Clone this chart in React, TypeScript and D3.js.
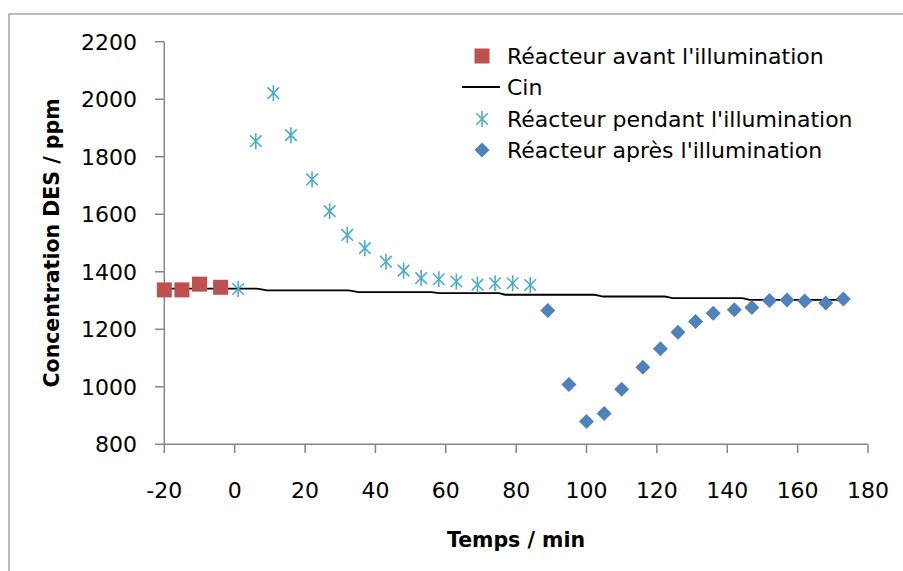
import React from "react";
import * as d3 from "d3";

const avantX = [-20, -15, -10, -4];
const avantY = [1337, 1337, 1357, 1346];

const pendantX = [1, 6, 11, 16, 22, 27, 32, 37, 43, 48, 53, 58, 63, 69, 74, 79, 84];
const pendantY = [1340, 1854, 2021, 1875, 1721, 1611, 1528, 1482, 1435, 1404, 1378, 1374, 1366, 1355, 1360, 1360, 1354];

const apresX = [89, 95, 100, 105, 110, 116, 121, 126, 131, 136, 142, 147, 152, 157, 162, 168, 173];
const apresY = [1265, 1008, 879, 907, 991, 1068, 1132, 1190, 1227, 1256, 1268, 1276, 1300, 1302, 1298, 1291, 1305];

const cinX = [-20, 6, 10, 32, 36, 56, 58, 75, 77, 102, 105, 122, 125, 144, 147, 174];
const cinY = [1341, 1341, 1335, 1335, 1329, 1329, 1326, 1326, 1320, 1320, 1314, 1314, 1308, 1308, 1302, 1302];

const xTicks = [-20, 0, 20, 40, 60, 80, 100, 120, 140, 160, 180];
const yTicks = [800, 1000, 1200, 1400, 1600, 1800, 2000, 2200];

const legendLabels = [
  "Réacteur avant l'illumination",
  "Cin",
  "Réacteur pendant l'illumination",
  "Réacteur après l'illumination",
];

const W = 903;
const H = 571;
const FONT = "'DejaVu Sans', sans-serif";
const AXIS = "#868686";
const RED = "#C0504D";
const CYAN = "#4BACC6";
const BLUE = "#4F81BD";

function Star({ cx, cy, r }: { cx: number; cy: number; r: number }) {
  const d = r * 0.72;
  return (
    <g stroke={CYAN} strokeWidth={1.6} fill="none">
      <line x1={cx} y1={cy - r} x2={cx} y2={cy + r} />
      <line x1={cx - d} y1={cy - d} x2={cx + d} y2={cy + d} />
      <line x1={cx - d} y1={cy + d} x2={cx + d} y2={cy - d} />
    </g>
  );
}

function Diamond({ cx, cy, r }: { cx: number; cy: number; r: number }) {
  return <path d={`M${cx},${cy - r}L${cx + r},${cy}L${cx},${cy + r}L${cx - r},${cy}Z`} fill={BLUE} />;
}

export default function App() {
  const x = d3.scaleLinear().domain([-20, 180]).range([164.3, 868]);
  const y = d3.scaleLinear().domain([800, 2200]).range([444.3, 41.7]);
  const line = d3
    .line<number>()
    .x((_, i) => x(cinX[i]))
    .y((v) => y(v))
    .curve(d3.curveMonotoneX);

  const legendX = 482;
  const legendTextX = 507;
  const legendYs = [56, 87, 119, 150];

  return (
    <svg
      width={W}
      height={H}
      style={{ position: "absolute", left: 0, top: 0, background: "#fff" }}
      fontFamily={FONT}
    >
      <rect x={0} y={0} width={W} height={H} fill="#fff" />
      <rect x={9} y={14} width={W + 20} height={H + 20} fill="none" stroke="#a6a6a6" strokeWidth={1.5} />

      {/* axes */}
      <line x1={x(-20)} y1={y(2200)} x2={x(-20)} y2={y(800)} stroke={AXIS} strokeWidth={1.5} />
      <line x1={x(-20)} y1={y(800)} x2={x(180)} y2={y(800)} stroke={AXIS} strokeWidth={1.5} />
      {yTicks.map((t) => (
        <g key={"y" + t}>
          <line x1={155} x2={x(-20)} y1={y(t)} y2={y(t)} stroke={AXIS} strokeWidth={1.5} />
          <text x={137} y={y(t)} dy="0.36em" textAnchor="end" fontSize={22} fill="#000">
            {t}
          </text>
        </g>
      ))}
      {xTicks.map((t) => (
        <g key={"x" + t}>
          <line x1={x(t)} x2={x(t)} y1={y(800)} y2={453} stroke={AXIS} strokeWidth={1.5} />
          <text x={x(t)} y={498} textAnchor="middle" fontSize={22} fill="#000">
            {t}
          </text>
        </g>
      ))}

      <text x={516} y={547} textAnchor="middle" fontSize={20.5} fontWeight="bold" fill="#000">
        Temps / min
      </text>
      <text
        transform={`translate(59,243) rotate(-90)`}
        textAnchor="middle"
        fontSize={20.5}
        fontWeight="bold"
        fill="#000"
      >
        Concentration DES / ppm
      </text>

      {/* Cin line */}
      <path d={line(cinY) || ""} fill="none" stroke="#000" strokeWidth={1.8} />

      {/* avant */}
      {avantX.map((v, i) => (
        <rect key={"a" + i} x={x(v) - 7.5} y={y(avantY[i]) - 7.5} width={15} height={15} fill={RED} />
      ))}
      {/* pendant */}
      {pendantX.map((v, i) => (
        <Star key={"p" + i} cx={x(v)} cy={y(pendantY[i])} r={8} />
      ))}
      {/* apres */}
      {apresX.map((v, i) => (
        <Diamond key={"d" + i} cx={x(v)} cy={y(apresY[i])} r={7.5} />
      ))}

      {/* legend */}
      <rect x={legendX - 7.5} y={legendYs[0] - 7.5} width={15} height={15} fill={RED} />
      <line x1={462} x2={500} y1={legendYs[1]} y2={legendYs[1]} stroke="#000" strokeWidth={1.8} />
      <Star cx={legendX} cy={legendYs[2]} r={8} />
      <Diamond cx={legendX} cy={legendYs[3]} r={7.5} />
      {legendLabels.map((l, i) => (
        <text key={l} x={legendTextX} y={legendYs[i]} dy="0.36em" fontSize={22} fill="#000">
          {l}
        </text>
      ))}
    </svg>
  );
}
